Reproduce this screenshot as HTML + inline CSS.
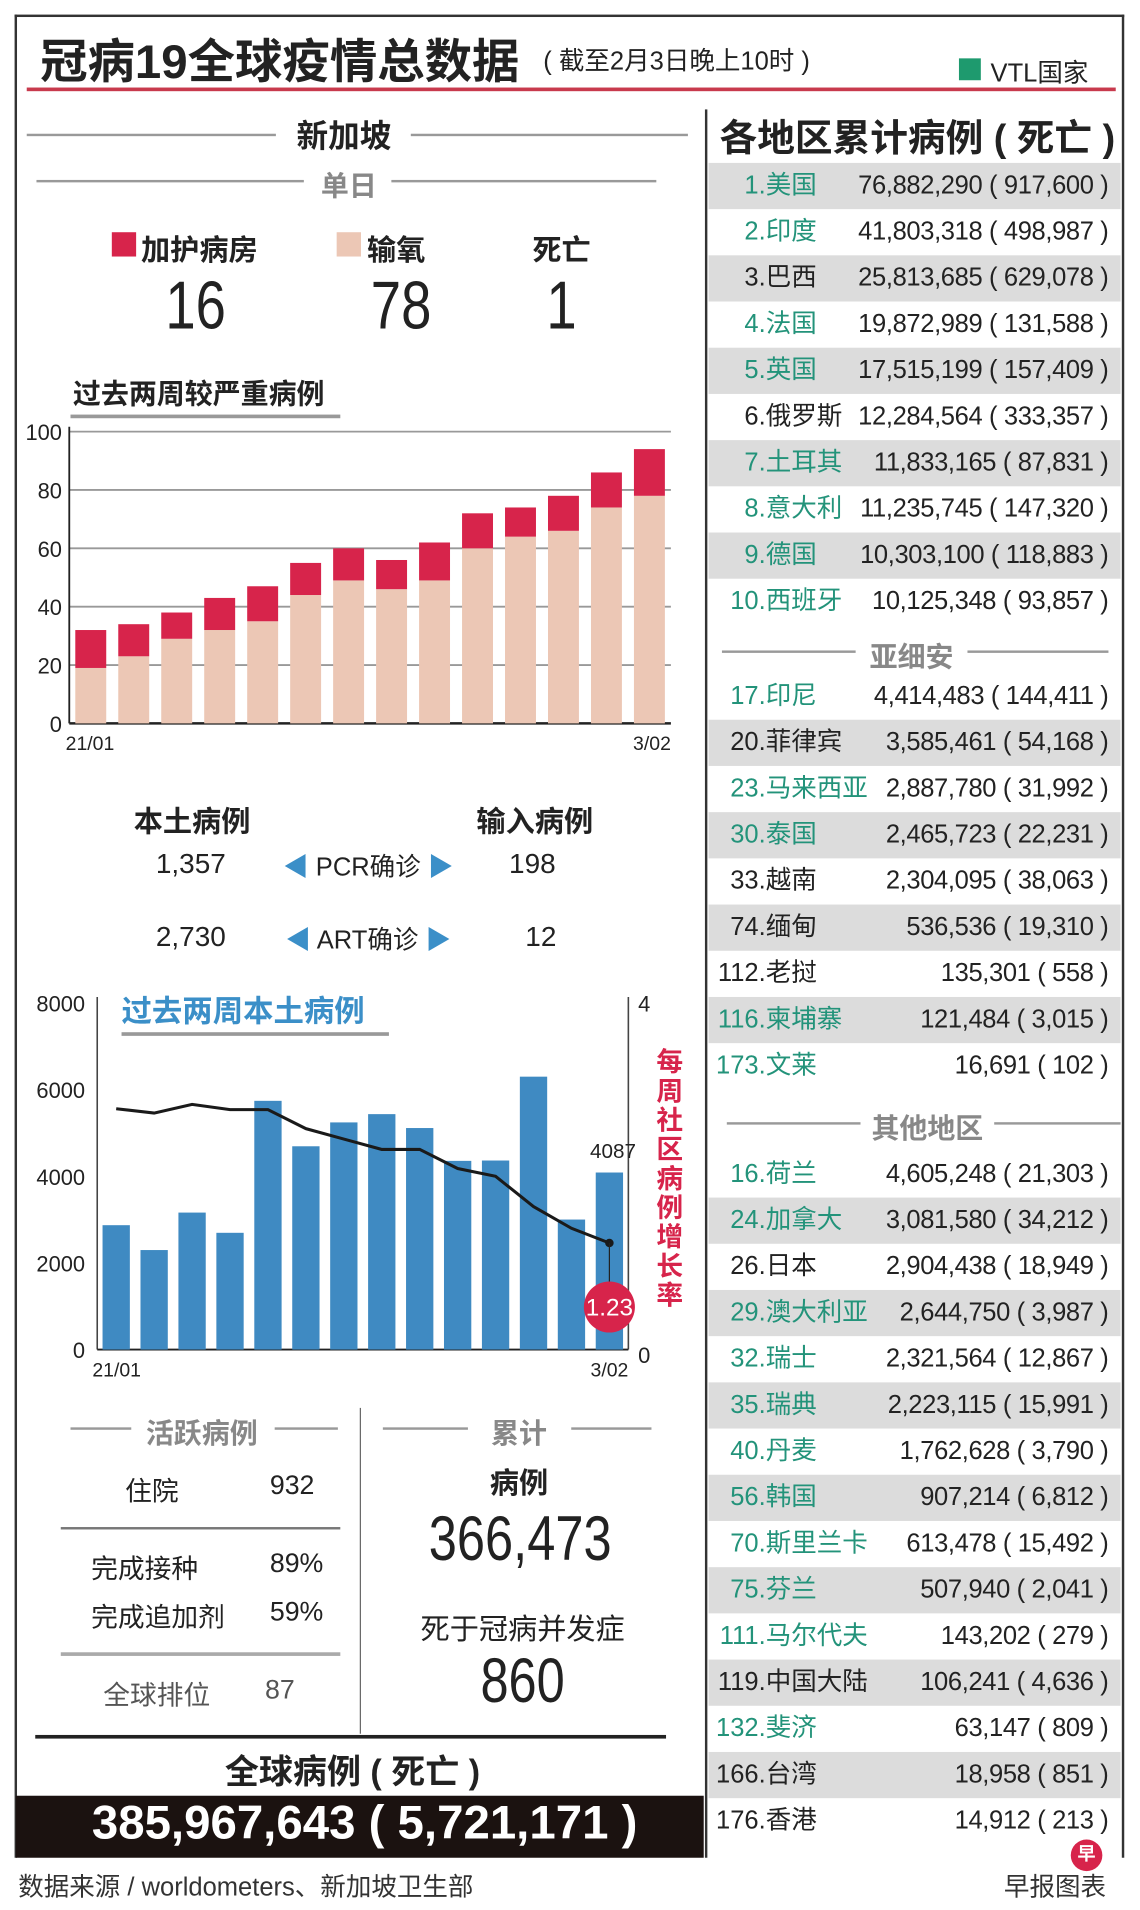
<!DOCTYPE html>
<html><head><meta charset="utf-8">
<style>
*{margin:0;padding:0;box-sizing:border-box}
body{width:1140px;height:1910px;overflow:hidden;background:#fff;font-family:"Liberation Sans","Noto Sans CJK SC",sans-serif;color:#222}
#wrap{position:absolute;left:0;top:0;width:938px;height:1571px;transform:scale(1.2154,1.2158);transform-origin:0 0}
.a{position:absolute;white-space:nowrap}
.b{font-weight:bold}
.c{transform:translateX(-50%)}
.hl{position:absolute;height:2px;background:#999}
.row{position:absolute;left:583px;width:339px;height:38px;font-size:21px;line-height:38px}
.row.g{background:#dcdcdc}
.rk{position:absolute;right:292px;text-align:right}
.nm{position:absolute;left:47px}
.vl{position:absolute;right:10px;letter-spacing:-0.3px}
.gr{color:#23937a}
</style></head><body>
<div id="wrap">
<div class="a" style="left:12px;top:12px;width:913px;height:1516px;border:2px solid #333;border-bottom:none"></div>
<div class="a b" style="left:33px;top:20px;font-size:39px">冠病19全球疫情总数据</div>
<div class="a" style="left:447px;top:34px;font-size:21px">( 截至2月3日晚上10时 )</div>
<div class="a" style="left:789px;top:48px;width:18px;height:18px;background:#1e9a6e"></div>
<div class="a" style="left:815px;top:44px;font-size:21px">VTL国家</div>
<div class="a" style="left:22px;top:72px;width:896px;height:3px;background:#c83a4d"></div>
<div class="a" style="left:580px;top:90px;width:2px;height:1438px;background:#333"></div>

<div class="hl" style="left:22px;top:110px;width:205px"></div>
<div class="hl" style="left:338px;top:110px;width:228px"></div>
<div class="a b c" style="left:283px;top:92px;font-size:26px">新加坡</div>
<div class="hl" style="left:30px;top:148px;width:220px"></div>
<div class="hl" style="left:322px;top:148px;width:218px"></div>
<div class="a b c" style="left:287px;top:134px;font-size:23px;color:#888">单日</div>
<div class="a" style="left:92px;top:191px;width:20px;height:20px;background:#d7244b"></div>
<div class="a b" style="left:116px;top:186px;font-size:24px">加护病房</div>
<div class="a" style="left:277px;top:191px;width:20px;height:20px;background:#ecc7b5"></div>
<div class="a b" style="left:302px;top:186px;font-size:24px">输氧</div>
<div class="a b" style="left:438px;top:186px;font-size:24px">死亡</div>
<div class="a c" style="left:161px;top:218px;font-size:56px;transform:translateX(-50%) scaleX(.8)">16</div>
<div class="a c" style="left:330px;top:218px;font-size:56px;transform:translateX(-50%) scaleX(.8)">78</div>
<div class="a c" style="left:462px;top:218px;font-size:56px;transform:translateX(-50%) scaleX(.8)">1</div>
<div class="a b" style="left:60px;top:305px;font-size:23px">过去两周较严重病例</div>
<div class="hl" style="left:58px;top:341px;width:222px;height:3px"></div>
<svg class="a" id="c1" style="left:0;top:330px" width="580" height="300"></svg>

<div class="a b c" style="left:158px;top:656px;font-size:24px">本土病例</div>
<div class="a b c" style="left:440px;top:656px;font-size:24px">输入病例</div>
<div class="a c" style="left:157px;top:697px;font-size:23px">1,357</div>
<div class="a c" style="left:303px;top:697px;font-size:21px"><span style="color:#3b8fc8">◀</span> PCR确诊 <span style="color:#3b8fc8">▶</span></div>
<div class="a c" style="left:438px;top:697px;font-size:23px">198</div>
<div class="a c" style="left:157px;top:757px;font-size:23px">2,730</div>
<div class="a c" style="left:303px;top:757px;font-size:21px"><span style="color:#3b8fc8">◀</span> ART确诊 <span style="color:#3b8fc8">▶</span></div>
<div class="a c" style="left:445px;top:757px;font-size:23px">12</div>

<svg class="a" id="c2" style="left:0;top:800px" width="580" height="340"></svg>
<div class="a b" style="left:100px;top:812px;font-size:25px;color:#3b8fc8">过去两周本土病例</div>
<div class="hl" style="left:100px;top:849px;width:220px;height:3px"></div>
<div class="a b" style="left:540px;top:862px;width:24px;font-size:22px;line-height:24px;color:#d7244b;white-space:normal">每周社区病例增长率</div>

<div class="hl" style="left:58px;top:1174px;width:50px"></div>
<div class="hl" style="left:226px;top:1174px;width:52px"></div>
<div class="a b c" style="left:166px;top:1160px;font-size:23px;color:#888">活跃病例</div>
<div class="a" style="left:103px;top:1209px;font-size:22px">住院</div>
<div class="a" style="left:222px;top:1209px;font-size:22px">932</div>
<div class="hl" style="left:50px;top:1256px;width:230px;background:#777"></div>
<div class="a" style="left:75px;top:1273px;font-size:22px">完成接种</div>
<div class="a" style="left:222px;top:1273px;font-size:22px">89%</div>
<div class="a" style="left:75px;top:1313px;font-size:22px">完成追加剂</div>
<div class="a" style="left:222px;top:1313px;font-size:22px">59%</div>
<div class="hl" style="left:50px;top:1359px;width:230px;background:#aaa;height:3px"></div>
<div class="a" style="left:85px;top:1377px;font-size:22px;color:#555">全球排位</div>
<div class="a" style="left:218px;top:1377px;font-size:22px;color:#555">87</div>
<div class="a" style="left:296px;top:1158px;width:1px;height:268px;background:#666"></div>
<div class="hl" style="left:315px;top:1174px;width:70px"></div>
<div class="hl" style="left:470px;top:1174px;width:66px"></div>
<div class="a b c" style="left:427px;top:1160px;font-size:23px;color:#888">累计</div>
<div class="a b c" style="left:427px;top:1200px;font-size:24px">病例</div>
<div class="a c" style="left:428px;top:1236px;font-size:52px;transform:translateX(-50%) scaleX(.8)">366,473</div>
<div class="a c" style="left:430px;top:1320px;font-size:24px">死于冠病并发症</div>
<div class="a c" style="left:430px;top:1353px;font-size:52px;transform:translateX(-50%) scaleX(.8)">860</div>
<div class="a" style="left:29px;top:1427px;width:519px;height:3px;background:#222"></div>
<div class="a b c" style="left:290px;top:1436px;font-size:28px">全球病例 ( 死亡 )</div>
<div class="a" style="left:13px;top:1477px;width:566px;height:51px;background:#1b1210"></div>
<div class="a b c" style="left:300px;top:1478px;font-size:39px;color:#fff">385,967,643 ( 5,721,171 )</div>
<div class="a" style="left:15px;top:1536px;font-size:21px;color:#333">数据来源 / worldometers、新加坡卫生部</div>
<div class="a" style="left:826px;top:1536px;font-size:21px;color:#333">早报图表</div>
<div class="a" style="left:881px;top:1513px;width:26px;height:26px;border-radius:50%;background:#d7244b;color:#fff;font-size:15px;line-height:26px;text-align:center;font-weight:bold">早</div>

<div class="a b" style="left:592px;top:88px;font-size:31px">各地区累计病例 ( 死亡 )</div>
<div class="hl" style="left:594px;top:535px;width:110px"></div>
<div class="hl" style="left:796px;top:535px;width:116px"></div>
<div class="a b c" style="left:750px;top:521px;font-size:23px;color:#888">亚细安</div>
<div class="hl" style="left:598px;top:923px;width:110px"></div>
<div class="hl" style="left:818px;top:923px;width:104px"></div>
<div class="a b c" style="left:763px;top:909px;font-size:23px;color:#888">其他地区</div>
<div id="rows"></div>
</div>
<script>
const c1Dates=["21/01","3/02"];
const oxygen=[19,23,29,32,35,44,49,46,49,60,64,66,74,78];
const icu=[13,11,9,11,12,11,11,10,13,12,10,12,12,16];
const c1Ticks=[0,20,40,60,80,100];
const localCases=[2871,2297,3162,2695,5742,4693,5244,5435,5114,4356,4364,6300,3001,4087];
const growthRate=[2.78,2.73,2.83,2.77,2.77,2.55,2.43,2.31,2.31,2.09,2.0,1.65,1.40,1.23];
const c2Ticks=[0,2000,4000,6000,8000];
const c2RightTicks=[0,4];

const NS="http://www.w3.org/2000/svg";
function mk(svg,tag,at,txt){const e=document.createElementNS(NS,tag);for(const k in at)e.setAttribute(k,at[k]);if(txt!=null)e.textContent=txt;svg.appendChild(e);return e;}

(function(){
const s=document.getElementById('c1');
const x0=57,x1=552,yb=595-330,yt=355-330;
const y=v=>yb-(v/100)*(yb-yt);
const step=(x1-x0)/oxygen.length,bw=step*0.72;
c1Ticks.forEach(t=>{
 const l=mk(s,'line',{x1:x0,x2:x1,y1:y(t),y2:y(t),stroke:t==0?'#222':'#999','stroke-width':t==0?2:1.5});
 
 
 const tx=mk(s,'text',{x:x0-6,y:y(t)+7,'text-anchor':'end','font-size':18,fill:'#222'},t);
 
 
});
const ax=mk(s,'line',{x1:x0,x2:x0,y1:yt-4,y2:yb,stroke:'#222','stroke-width':1.5});


oxygen.forEach((v,i)=>{
 const bx=x0+i*step+(step-bw)/2;
 const r1=mk(s,'rect',{x:bx,y:y(v),width:bw,height:yb-y(v),fill:'#ecc7b5'});
 
 
 const r2=mk(s,'rect',{x:bx,y:y(v+icu[i]),width:bw,height:y(v)-y(v+icu[i]),fill:'#d7244b'});
 
 
});
const a=mk(s,'text',{x:x0-3,y:yb+22,'font-size':16,fill:'#222'},c1Dates[0]);


const b=mk(s,'text',{x:x1,y:yb+22,'font-size':16,fill:'#222','text-anchor':'end'},c1Dates[1]);


})();

(function(){
const s=document.getElementById('c2');
const x0=80,x1=517,yb=1110-800,yt=825-800;
const y=v=>yb-(v/8000)*(yb-yt);
const yr=v=>yb-(v/4)*(yb-yt);
const step=(x1-x0)/localCases.length,bw=step*0.72;
c2Ticks.forEach(t=>{
 const tx=mk(s,'text',{x:x0-10,y:y(t)+7,'text-anchor':'end','font-size':18,fill:'#222'},t);
 
 
});
c2RightTicks.forEach(t=>{
 const tx=mk(s,'text',{x:x1+8,y:yr(t)+7+(t==0?4:0),'font-size':18,fill:'#222'},t);
 
 
});
[[x0,x0],[x1,x1]].forEach(p=>{
 const l=mk(s,'line',{x1:p[0],x2:p[1],y1:yt-5,y2:yb,stroke:'#444','stroke-width':1.3});
 
 
});
const bl=mk(s,'line',{x1:x0,x2:x1,y1:yb,y2:yb,stroke:'#222','stroke-width':1.5});


localCases.forEach((v,i)=>{
 const bx=x0+i*step+(step-bw)/2;
 const r=mk(s,'rect',{x:bx,y:y(v),width:bw,height:yb-y(v),fill:'#3f8ac2'});
 
 
});
const pts=growthRate.map((v,i)=>[x0+(i+0.5)*step,yr(v)]);
const pl=mk(s,'polyline',{points:pts.map(p=>p.join(',')).join(' '),fill:'none',stroke:'#1a1a1a','stroke-width':2.5});


const last=pts[pts.length-1];
const d=mk(s,'circle',{cx:last[0],cy:last[1],r:3.5,fill:'#1a1a1a'});


const vl=mk(s,'line',{x1:last[0],x2:last[0],y1:last[1],y2:yb-45,stroke:'#222','stroke-width':1});


const cc=mk(s,'circle',{cx:last[0],cy:yb-35,r:21,fill:'#d7244b'});


const ct=mk(s,'text',{x:last[0],y:yb-28,'text-anchor':'middle','font-size':20,fill:'#fff'},growthRate[growthRate.length-1]);


const lv=localCases[localCases.length-1];
const lt=mk(s,'text',{x:last[0]+3,y:y(lv)-12,'text-anchor':'middle','font-size':17,fill:'#222'},lv);


const a=mk(s,'text',{x:x0-4,y:yb+22,'font-size':16,fill:'#222'},"21/01");


const b=mk(s,'text',{x:x1,y:yb+22,'font-size':16,fill:'#222','text-anchor':'end'},"3/02");


})();

const top10=[["1","美国","76,882,290 ( 917,600 )",1],["2","印度","41,803,318 ( 498,987 )",1],["3","巴西","25,813,685 ( 629,078 )",0],["4","法国","19,872,989 ( 131,588 )",1],["5","英国","17,515,199 ( 157,409 )",1],["6","俄罗斯","12,284,564 ( 333,357 )",0],["7","土耳其","11,833,165 ( 87,831 )",1],["8","意大利","11,235,745 ( 147,320 )",1],["9","德国","10,303,100 ( 118,883 )",1],["10","西班牙","10,125,348 ( 93,857 )",1]];
const asean=[["17","印尼","4,414,483 ( 144,411 )",1],["20","菲律宾","3,585,461 ( 54,168 )",0],["23","马来西亚","2,887,780 ( 31,992 )",1],["30","泰国","2,465,723 ( 22,231 )",1],["33","越南","2,304,095 ( 38,063 )",0],["74","缅甸","536,536 ( 19,310 )",0],["112","老挝","135,301 ( 558 )",0],["116","柬埔寨","121,484 ( 3,015 )",1],["173","文莱","16,691 ( 102 )",1]];
const others=[["16","荷兰","4,605,248 ( 21,303 )",1],["24","加拿大","3,081,580 ( 34,212 )",1],["26","日本","2,904,438 ( 18,949 )",0],["29","澳大利亚","2,644,750 ( 3,987 )",1],["32","瑞士","2,321,564 ( 12,867 )",1],["35","瑞典","2,223,115 ( 15,991 )",1],["40","丹麦","1,762,628 ( 3,790 )",1],["56","韩国","907,214 ( 6,812 )",1],["70","斯里兰卡","613,478 ( 15,492 )",1],["75","芬兰","507,940 ( 2,041 )",1],["111","马尔代夫","143,202 ( 279 )",1],["119","中国大陆","106,241 ( 4,636 )",0],["132","斐济","63,147 ( 809 )",1],["166","台湾","18,958 ( 851 )",0],["176","香港","14,912 ( 213 )",0]];
const host=document.getElementById('rows');
function addRows(list,yc,grayEven){
 list.forEach((r,i)=>{
  const d=document.createElement('div');
  d.className='row'+(((i%2==0)==grayEven)?' g':'');
  d.style.top=(yc+i*38-19)+'px';
  
  
  const cls=r[3]?'gr':'';
  d.innerHTML='<span class="rk '+cls+'">'+r[0]+'.</span><span class="nm '+cls+'">'+r[1]+'</span><span class="vl">'+r[2]+'</span>';
  host.appendChild(d);
 });
}
addRows(top10,153,true);
addRows(asean,573,false);
addRows(others,966,false);
</script>
</body></html>
